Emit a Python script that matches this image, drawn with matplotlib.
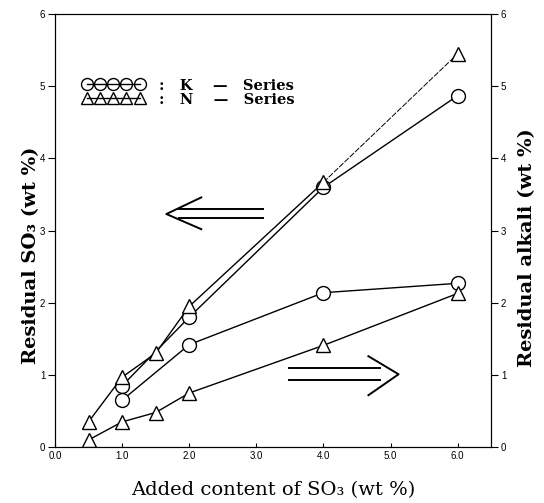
import matplotlib
matplotlib.use("Agg")
import matplotlib.pyplot as plt
from matplotlib.lines import Line2D

# Data
so3_added = [0.5, 1.0, 1.5, 2.0, 4.0, 6.0]
k_added = [1.0, 2.0, 4.0, 6.0]

k_so3 = [0.85, 1.80, 3.60, 4.87]               # K-series residual SO3 (left axis)
n_so3 = [0.35, 0.97, 1.30, 1.95, 3.67, 5.45]   # N-series residual SO3 (left axis)
k_alkali = [0.65, 1.42, 2.14, 2.27]            # K-series residual alkali (right axis)
n_alkali = [0.10, 0.35, 0.48, 0.75, 1.41, 2.13]  # N-series residual alkali (right axis)

x_ticks = [0, 1, 2, 3, 4, 5, 6]
x_ticklabels = ['0.0', '1.0', '2.0', '3.0', '4.0', '5.0', '6.0']
y_ticks = [0, 1, 2, 3, 4, 5, 6]

serif = ['DejaVu Serif']
sans = ['Liberation Sans', 'DejaVu Sans']

fig = plt.figure(figsize=(5.44, 5.03), dpi=100)
ax = fig.add_axes([0.101, 0.111, 0.802, 0.861])
ax2 = ax.twinx()

mk = dict(color='black', lw=1.0, mfc='white', mec='black', mew=1.0)

# upper curves (residual SO3, left axis)
ax.plot(k_added, k_so3, marker='o', ms=10, **mk, zorder=3)
ax.plot(so3_added[:5], n_so3[:5], marker='^', ms=10, **mk, zorder=3)
ax.plot(so3_added[4:], n_so3[4:], color='black', lw=0.7, ls=(0, (6, 1.5)), zorder=2)
ax.plot(so3_added[5:], n_so3[5:], marker='^', ms=10, ls='none', mfc='white',
        mec='black', mew=1.0, zorder=3)

# lower curves (residual alkali, right axis)
ax2.plot(k_added, k_alkali, marker='o', ms=10, **mk)
ax2.plot(so3_added, n_alkali, marker='^', ms=10, **mk)

ax.set_xlim(0, 6.5)
ax.set_ylim(0, 6)
ax2.set_ylim(0, 6)

ax.set_xticks(x_ticks)
ax.set_xticklabels(x_ticklabels)
ax.set_yticks(y_ticks)
ax2.set_yticks(y_ticks)

for a in (ax, ax2):
    for lab in a.get_xticklabels() + a.get_yticklabels():
        lab.set_family(sans)
        lab.set_fontsize(7)
ax.tick_params(axis='x', direction='in', length=3, pad=3)
ax.tick_params(axis='y', direction='out', length=5, pad=2)
ax2.tick_params(axis='y', direction='out', length=5, pad=2)

ax.set_xlabel('Added content of SO\u2083 (wt %)', family=serif, fontsize=14,
              labelpad=14)
ax.set_ylabel('Residual SO\u2083 (wt %)', family=serif, fontsize=14,
              fontweight='bold')
ax2.set_ylabel('Residual alkali (wt %)', family=serif, fontsize=14,
               fontweight='bold')
ax.yaxis.set_label_coords(-0.034, 0.443)
ax2.yaxis.set_label_coords(1.062, 0.46)

# direction arrows (double-line), left one points to the SO3 axis
ax.plot([1.85, 3.1], [3.30, 3.30], color='black', lw=1.4)
ax.plot([1.85, 3.1], [3.17, 3.17], color='black', lw=1.4)
ax.plot([2.18, 1.66, 2.18], [3.46, 3.23, 3.02], color='black', lw=1.4)

ax.plot([3.48, 4.85], [1.09, 1.09], color='black', lw=1.4)
ax.plot([3.48, 4.85], [0.93, 0.93], color='black', lw=1.4)
ax.plot([4.67, 5.12, 4.67], [1.26, 1.01, 0.72], color='black', lw=1.4)

handles = [
    Line2D([], [], marker='o', ms=8.6, color='black', lw=1.0, mfc='none', mec='black'),
    Line2D([], [], marker='^', ms=9, color='black', lw=1.0, mfc='none', mec='black'),
]
leg = ax.legend(handles, [':   K    \u2014   Series', ':   N    \u2014   Series'],
                numpoints=5, handlelength=4.2, handletextpad=1.0,
                frameon=False, loc='upper left', bbox_to_anchor=(0.047, 0.868),
                labelspacing=0.0, borderpad=0.0,
                prop={'family': serif, 'size': 10.5, 'weight': 'bold'})

fig.savefig('out.png', dpi=100)
